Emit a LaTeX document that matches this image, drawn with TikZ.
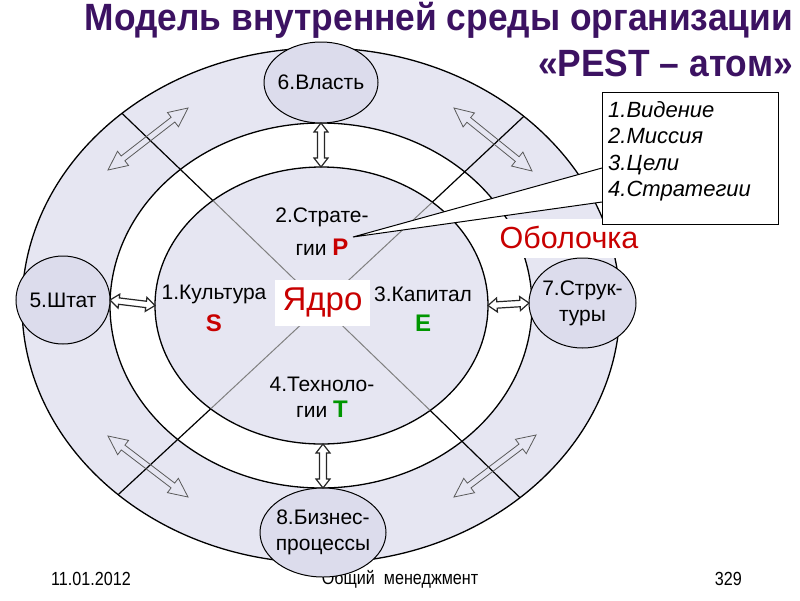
\documentclass[tikz,border=0pt]{standalone}
\usepackage{fontspec}
\setmainfont{Liberation Sans}
\newfontfamily\condfont[FakeStretch=0.93]{Liberation Sans}
\newfontfamily\narrowfont[FakeStretch=0.85]{Liberation Sans}
\usetikzlibrary{shapes.geometric,calc}
\definecolor{ringcol}{RGB}{230,230,242}
\definecolor{circcol}{RGB}{220,220,236}
\definecolor{titlecol}{RGB}{60,18,98}
\definecolor{myred}{RGB}{200,0,0}
\definecolor{mygreen}{RGB}{0,150,0}
\definecolor{arrowgray}{RGB}{90,90,90}
\newcommand\hollowarrow[6]{%
 \path[#1] (#2) -- ($(#2)!#6!(#3)!#5!90:(#3)$) -- ($(#2)!#6!(#3)!#4!90:(#3)$)
  -- ($(#3)!#6!(#2)!#4!-90:(#2)$) -- ($(#3)!#6!(#2)!#5!-90:(#2)$) -- (#3)
  -- ($(#3)!#6!(#2)!#5!90:(#2)$) -- ($(#3)!#6!(#2)!#4!90:(#2)$)
  -- ($(#2)!#6!(#3)!#4!-90:(#3)$) -- ($(#2)!#6!(#3)!#5!-90:(#3)$) -- cycle;}
\tikzset{
 bigell/.style={ellipse, draw, line width=1.3pt, inner sep=0pt, outer sep=0pt},
 smallell/.style={ellipse, draw, line width=1pt, fill=circcol, inner sep=0pt, outer sep=0pt},
 lbl/.style={font=\fontsize{21}{26}\selectfont, align=center, inner sep=0pt},
 letter/.style={font=\fontsize{24}{24}\selectfont\bfseries, inner sep=0pt},
 divline/.style={line width=1.2pt, black},
 coreline/.style={line width=1pt, gray},
 thinarrow/.style={draw=arrowgray, line width=0.8pt, line join=miter},
 thickarrow/.style={draw=black!85, fill=white, line width=1.2pt, line join=miter},
 foot/.style={font=\narrowfont\fontsize{19}{21}\selectfont, inner sep=0pt},
 titletext/.style={font=\condfont\fontsize{38}{42}\selectfont\bfseries, text=titlecol, inner sep=0pt, anchor=east}
}
\begin{document}
\begin{tikzpicture}[x=1pt,y=-1pt]
\useasboundingbox[fill=white] (0,0) rectangle (800,600);
% title
\node[titletext] (title1) at (793,20) {Модель внутренней среды организации};
\node[titletext] (title2) at (793,63) {«PEST – атом»};
% footer
\node[foot, anchor=west] (date) at (51,579) {11.01.2012};
\node[foot] (course) at (400,579) {Общий\ \ менеджмент};
\node[foot, anchor=east] (page) at (742,579) {329};
% big ellipses
\node[bigell, fill=ringcol, minimum width=598pt, minimum height=515pt] (outer) at (321,305.5) {};
\node[bigell, fill=white, minimum width=422pt, minimum height=365pt] (middle) at (321,305.5) {};
\node[bigell, fill=ringcol, minimum width=333pt, minimum height=277pt] (inner) at (321.5,305.5) {};
% dividing lines
\foreach \a in {43.16,136.84,223.16,316.84}{
  \draw[coreline] (inner.\a) -- (inner.center);
  \draw[divline] (outer.\a) -- (inner.\a);
}
% thin double arrows in the shell
\coordinate (tla) at (108,170); \coordinate (tlb) at (188,108);
\coordinate (tra) at (454,108); \coordinate (trb) at (532,171);
\coordinate (bla) at (108,436); \coordinate (blb) at (188,497);
\coordinate (bra) at (454,497); \coordinate (brb) at (536,435);
\hollowarrow{thinarrow}{tla}{tlb}{3pt}{9pt}{19pt}
\hollowarrow{thinarrow}{tra}{trb}{3pt}{9pt}{19pt}
\hollowarrow{thinarrow}{bla}{blb}{3pt}{9pt}{19pt}
\hollowarrow{thinarrow}{bra}{brb}{3pt}{9pt}{19pt}
% core labels
\node[lbl] (strat) at (322,217) {2.Страте-};
\node[lbl, anchor=base] (stratb) at (322,255) {гии {\fontsize{24}{24}\selectfont\bfseries\color{myred}P}};
\node[lbl] (kult) at (214,294) {1.Культура};
\node[letter, text=myred] (S) at (214,323) {S};
\node[lbl] (kap) at (423,294) {3.Капитал};
\node[letter, text=mygreen] (E) at (423,323) {E};
\node[lbl] (tech) at (322,384) {4.Техноло-};
\node[lbl, anchor=base] (techb) at (322,417) {гии {\fontsize{24}{24}\selectfont\bfseries\color{mygreen}T}};
\node[fill=white, minimum width=95pt, minimum height=46pt, inner sep=0pt, text=myred, font=\fontsize{33}{33}\selectfont] (yadro) at (322.5,303) {Ядро};
% callout
\coordinate (tip) at (353,237);
\coordinate (cu) at (602,168);
\coordinate (cl) at (602,202);
\fill[white] (tip) -- (cu) -- (cl) -- cycle;
\draw[line width=1pt] (cu) -- (tip) -- (cl);
\node[fill=white, minimum width=143pt, minimum height=39pt, inner sep=0pt] (obolbox) at (568.5,238) {};
\node[draw, fill=white, line width=1pt, minimum width=176pt, minimum height=132pt, inner sep=0pt, anchor=north west] (callout) at (602,92) {};
\node[anchor=north west, align=left, inner sep=0pt, font=\fontsize{22}{26.5}\selectfont\itshape] (calltext) at (608,101) {1.Видение\\2.Миссия\\3.Цели\\4.Стратегии};
\node[text=myred, inner sep=0pt, font=\fontsize{30.5}{31}\selectfont] (obol) at (569,237) {Оболочка};
% satellite circles
\node[smallell, minimum width=114pt, minimum height=81pt] (vlast) at (321,82.5) {};
\node[lbl] (vlastt) at (vlast.center) {6.Власть};
\node[smallell, minimum width=94pt, minimum height=88pt] (shtat) at (63,300) {};
\node[lbl] (shtatt) at (shtat.center) {5.Штат};
\node[smallell, minimum width=107pt, minimum height=90pt] (strukt) at (582.5,303) {};
\node[lbl] (struktt) at (strukt.center) {7.Струк-\\туры};
\node[smallell, minimum width=126pt, minimum height=89pt] (biz) at (323,532.5) {};
\node[lbl] (bizt) at (biz.center) {8.Бизнес-\\процессы};
% thick double arrows
\coordinate (vtop) at (vlast.south |- inner.north);
\coordinate (vbot) at (biz.north |- inner.south);
\hollowarrow{thickarrow}{shtat.east}{inner.west}{3.2pt}{7pt}{9pt}
\hollowarrow{thickarrow}{inner.east}{strukt.west}{3.2pt}{7pt}{9pt}
\hollowarrow{thickarrow}{vlast.south}{vtop}{3.5pt}{7pt}{9pt}
\hollowarrow{thickarrow}{vbot}{biz.north}{3.5pt}{7pt}{9pt}
\end{tikzpicture}
\end{document}
